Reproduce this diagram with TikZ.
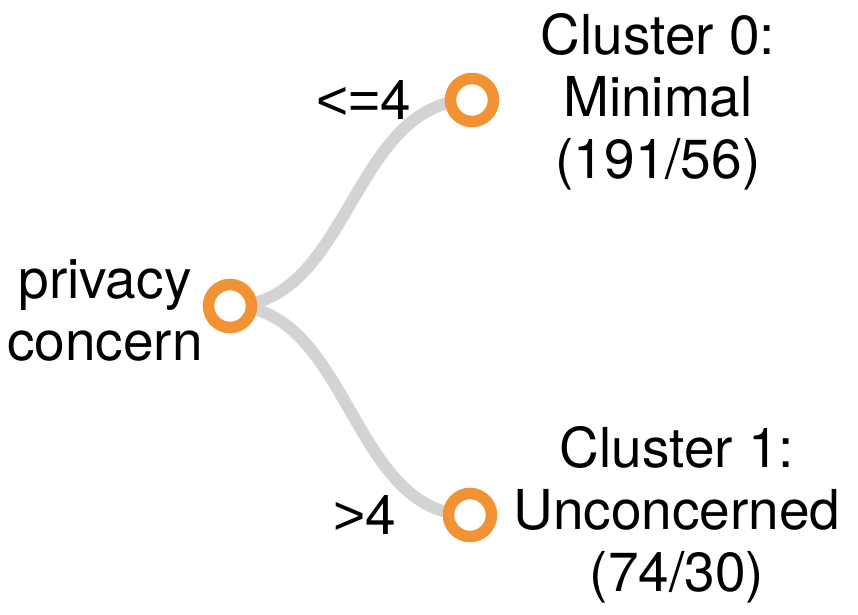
\documentclass[tikz,border=0pt]{standalone}
\usepackage{fontspec}
\setmainfont{TeX Gyre Heros}
\newfontfamily\relfont{Liberation Sans}
\usetikzlibrary{backgrounds}
\definecolor{splitorange}{RGB}{241,147,52}
\definecolor{branchgray}{RGB}{211,211,211}
\begin{document}
\begin{tikzpicture}[x=1pt,y=-1pt,
    split/.style={circle, draw=splitorange, line width=11.5pt, fill=white, minimum size=43pt, inner sep=0pt},
    branch/.style={draw=branchgray, line width=12pt},
    caption/.style={font=\fontsize{55}{62}\selectfont, align=center, inner sep=0pt}]
    \useasboundingbox (0,0) rectangle (858,614);

    % tree nodes
    \node[split] (root) at (230,306) {};
    \node[split] (minimal) at (472,100) {};
    \node[split] (unconcerned) at (470,515) {};

    % branches go behind the nodes
    \begin{scope}[on background layer]
        \draw[branch] (root.center) .. controls +(121,0) and +(-121,0) .. (minimal.center);
        \draw[branch] (root.center) .. controls +(120,0) and +(-120,0) .. (unconcerned.center);
    \end{scope}

    % texts
    \node[caption] (rootlabel) at (105,310) {privacy\\concern};
    \node[caption] (minimallabel) at (658,102) {Cluster 0:\\Minimal\\(191/56)};
    \node[caption] (unconcernedlabel) at (677,515) {Cluster 1:\\Unconcerned\\(74/30)};
    \node[caption] (lowsplit) at (364,100) {{\relfont<=}4};
    \node[caption] (highsplit) at (365,515) {{\relfont>}4};
\end{tikzpicture}
\end{document}
